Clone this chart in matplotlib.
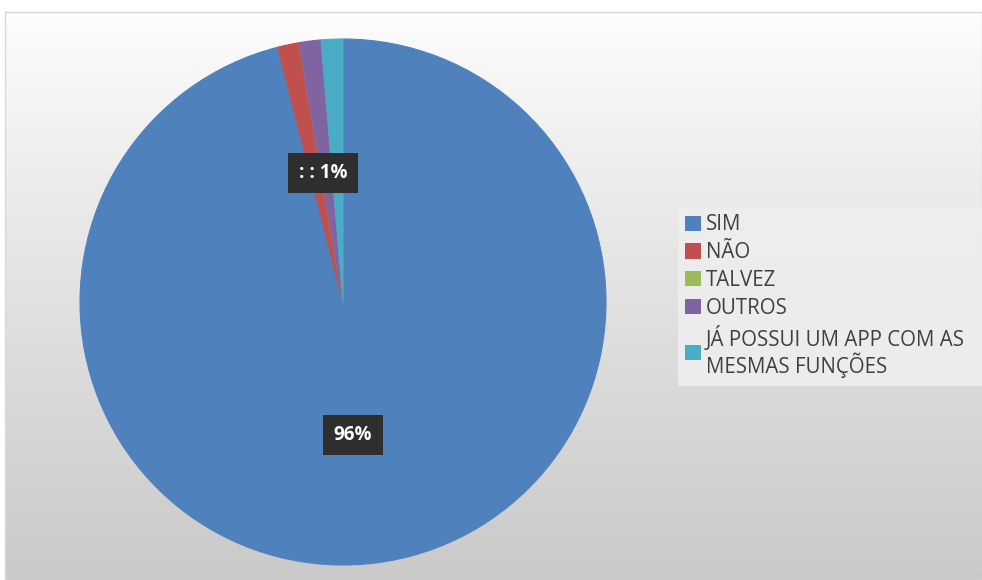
import matplotlib
matplotlib.use("Agg")
import matplotlib.pyplot as plt
import numpy as np
from matplotlib.patches import Patch

categories = ["SIM", "NÃO", "TALVEZ", "OUTROS", "JÁ POSSUI UM APP COM AS\nMESMAS FUNÇÕES"]
values = [72, 1, 0, 1, 1]
colors = ["#4F81BD", "#C0504D", "#9BBB59", "#8064A2", "#4BACC6"]

W, H = 982, 580
fig = plt.figure(figsize=(W / 100, H / 100), dpi=100)
fig.patch.set_facecolor("white")

# background gradient panel
bg = fig.add_axes([5 / W, 0, (W - 5) / W, (H - 12) / H])
grad = np.linspace(0, 1, 256).reshape(-1, 1)
top = np.array([0.995, 0.995, 0.995])
bot = np.array([0.79, 0.79, 0.79])
img = top + (bot - top) * grad[:, :, None] ** 0.9
bg.imshow(img, aspect="auto", extent=[0, 1, 0, 1], origin="upper")
bg.set_xlim(0, 1); bg.set_ylim(0, 1)
bg.set_xticks([]); bg.set_yticks([])
for s in bg.spines.values():
    s.set_color("#d9d9d9"); s.set_linewidth(1)

# pie axes
cx, cy, r = 343, 302, 263
ax = fig.add_axes([(cx - r) / W, (H - cy - r) / H, 2 * r / W, 2 * r / H])
ax.set_facecolor("none")
wedges, _ = ax.pie(values, colors=colors, startangle=90, counterclock=False,
                   radius=1, wedgeprops=dict(linewidth=0.8))
for w, c in zip(wedges, colors):
    w.set_edgecolor(c)
ax.set_xlim(-1, 1); ax.set_ylim(-1, 1)
ax.set_aspect("equal")
ax.axis("off")

total = sum(values)
box = dict(boxstyle="square,pad=0.55", facecolor="#2e2e2e", edgecolor="none")

def to_data(px, py):
    return ((px - cx) / r, (cy - py) / r)

x, y = to_data(353, 435)
ax.text(x, y, f"{round(100 * values[0] / total)}%", color="white", fontsize=13.5,
        fontweight="bold", ha="center", va="center", bbox=box, family="Open Sans")
x, y = to_data(323, 173)
ax.text(x, y, f": : {round(100 * values[4] / total)}%", color="white", fontsize=13.5,
        fontweight="bold", ha="center", va="center", bbox=box, family="Open Sans")

handles = [Patch(facecolor=c, edgecolor="none") for c in colors]
leg = fig.legend(handles, categories, loc="upper left",
                 bbox_to_anchor=(678 / W, 1 - 213 / H, (W - 678) / W, 0.01),
                 mode="expand",
                 frameon=True, fancybox=False,
                 handlelength=0.75, handleheight=0.75, handletextpad=0.25,
                 labelspacing=0.33, borderpad=0.35, borderaxespad=0,
                 prop={"family": "Open Sans", "size": 14.8})
leg.get_frame().set_facecolor("#eeeeee")
leg.get_frame().set_edgecolor("none")
leg.get_frame().set_alpha(0.9)
for t in leg.get_texts():
    t.set_color("#404040")
    t.set_linespacing(1.12)

fig.savefig("out.png", dpi=100)
